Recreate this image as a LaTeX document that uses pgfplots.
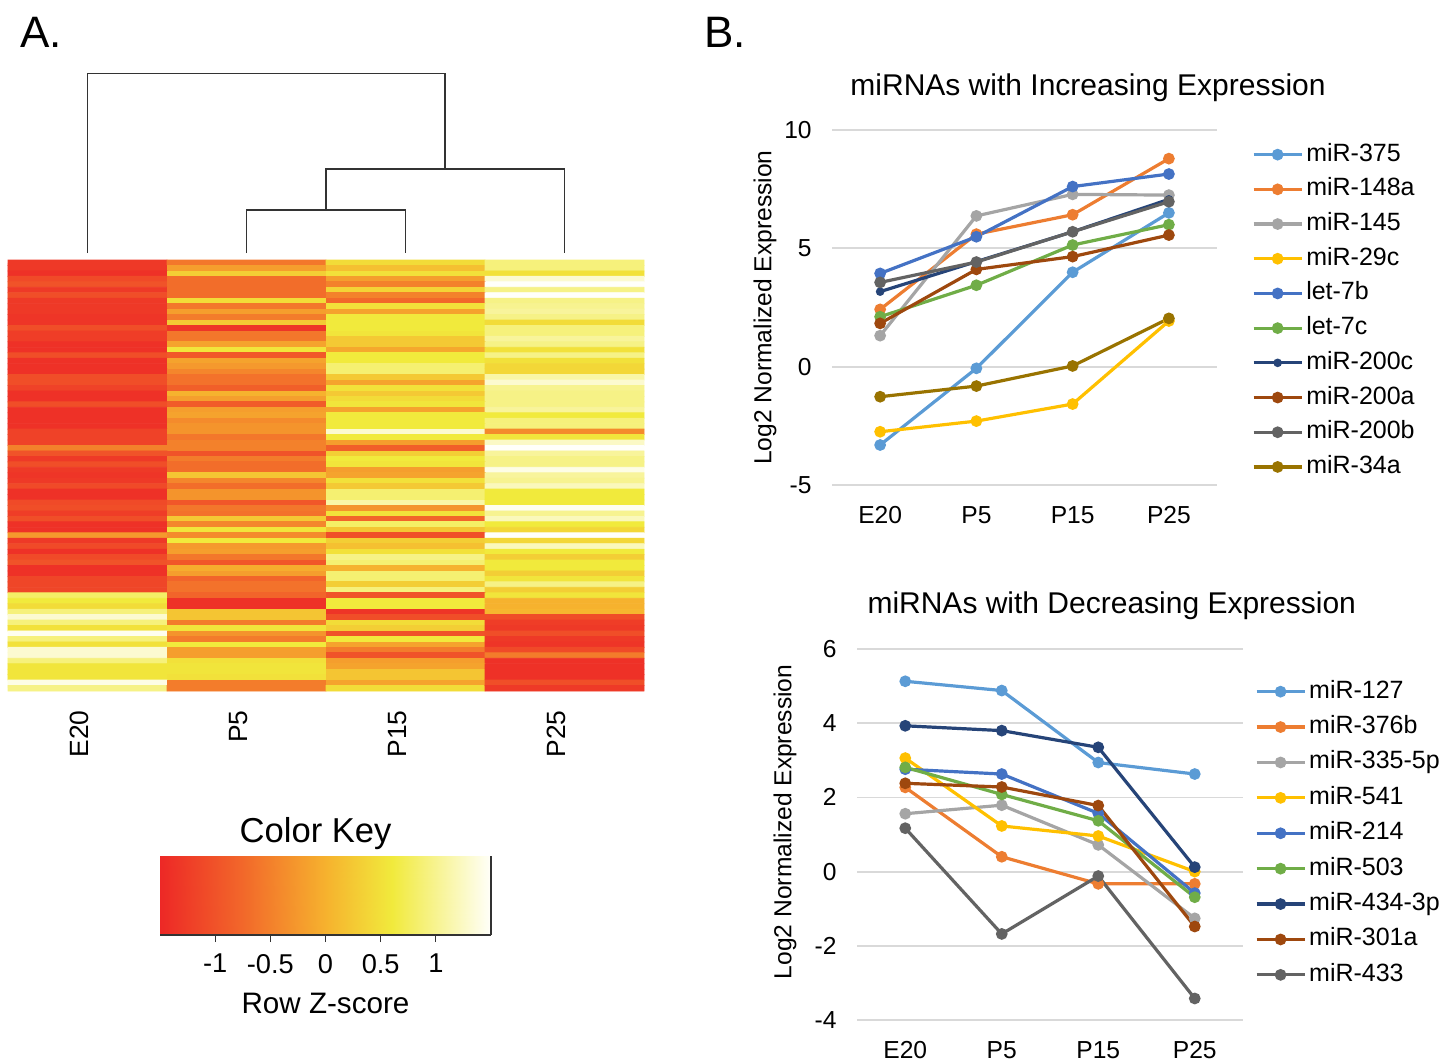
\documentclass[border=0pt]{standalone}
\usepackage{pgfplots}
\pgfplotsset{compat=1.18}
\usepackage{fontspec}
\setmainfont{Liberation Sans}
\definecolor{c1}{HTML}{5B9BD5}
\definecolor{c2}{HTML}{ED7D31}
\definecolor{c3}{HTML}{A5A5A5}
\definecolor{c4}{HTML}{FFC000}
\definecolor{c5}{HTML}{4472C4}
\definecolor{c6}{HTML}{70AD47}
\definecolor{c7}{HTML}{264478}
\definecolor{c8}{HTML}{9E480E}
\definecolor{c9}{HTML}{636363}
\definecolor{c10}{HTML}{997300}
\definecolor{gridc}{HTML}{D9D9D9}
\pgfplotsset{
  colormap={hm}{rgb255(0pt)=(237,40,38) rgb255(15pt)=(242,104,42) rgb255(30pt)=(246,178,46) rgb255(42pt)=(241,234,60) rgb255(60pt)=(255,255,250)},
  ser/.style={color=#1, line width=1.6pt, mark=*, mark size=2.1pt, mark options={solid}},
  linechart/.style={
    anchor=south west, scale only axis, clip=false,
    xmin=-0.5, xmax=3.5,
    xtick={0,1,2,3}, xticklabels={E20,P5,P15,P25},
    axis line style={draw=none}, major tick length=0pt,
    ymajorgrids, grid style={gridc, line width=0.9pt},
    tick label style={font=\fontsize{12.3}{14}\selectfont},
    xticklabel style={inner sep=0pt, anchor=north, yshift=-10.5pt},
    yticklabel style={inner sep=0pt, anchor=east, xshift=-10pt},
    label style={font=\fontsize{12.3}{14}\selectfont},
    title style={font=\fontsize{15}{18}\selectfont, anchor=center},
    legend cell align=left,
    legend style={draw=none, fill=none, inner sep=0pt, outer sep=0pt,
      anchor=north west, font=\fontsize{12.5}{14}\selectfont, column sep=1.5pt,
      nodes={inner sep=0pt, text height=9pt, text depth=2.5pt}},
    legend image code/.code={\draw[mark repeat=2,mark phase=2,##1] plot coordinates {(0pt,0pt) (12pt,0pt) (24pt,0pt)};},
  },
}
\begin{document}
\begin{tikzpicture}
\path[use as bounding box] (0,0) rectangle (727.5pt,531pt);
\node[font=\fontsize{22}{26}\selectfont] at (20.5pt,515pt) {A.};
\node[font=\fontsize{22}{26}\selectfont] at (362.5pt,515pt) {B.};

% ---------------- heatmap ----------------
\begin{axis}[at={(4pt,185.5pt)}, anchor=south west, scale only axis,
  width=318pt, height=215.5pt,
  xmin=-0.5, xmax=3.5, ymin=-0.5, ymax=78.5, clip=false, enlargelimits=false,
  axis line style={draw=none}, tick style={draw=none}, ytick=\empty,
  xtick={0,1,2,3}, xticklabels={E20,P5,P15,P25},
  xticklabel shift=9.5pt,
  xticklabel style={xshift=-4pt, rotate=90, anchor=east, inner sep=0pt, font=\fontsize{13.2}{15}\selectfont},
  colormap name=hm, point meta min=-1.5, point meta max=1.5]
\addplot[matrix plot*, mesh/cols=4, point meta=explicit] table[row sep=\\, meta=z] {
x y z\\
0 78 -1.3\\ 1 78 -0.6\\ 2 78 0.45\\ 3 78 0.9\\
0 77 -1.3\\ 1 77 -0.2\\ 2 77 0.15\\ 3 77 0.9\\
0 76 -1.4\\ 1 76 0.3\\ 2 76 0.5\\ 3 76 0.5\\
0 75 -1.1\\ 1 75 -0.7\\ 2 75 -0.2\\ 3 75 1.3\\
0 74 -1.0\\ 1 74 -0.7\\ 2 74 -0.5\\ 3 74 1.5\\
0 73 -1.3\\ 1 73 -0.7\\ 2 73 0.35\\ 3 73 0.95\\
0 72 -1.05\\ 1 72 -0.7\\ 2 72 -0.5\\ 3 72 1.5\\
0 71 -1.3\\ 1 71 0.45\\ 2 71 -0.75\\ 3 71 0.95\\
0 70 -1.3\\ 1 70 -0.6\\ 2 70 0.5\\ 3 70 1.0\\
0 69 -1.3\\ 1 69 -0.2\\ 2 69 -0.15\\ 3 69 1.05\\
0 68 -1.35\\ 1 68 -0.55\\ 2 68 0.6\\ 3 68 0.95\\
0 67 -1.35\\ 1 67 0.25\\ 2 67 0.6\\ 3 67 0.45\\
0 66 -1.05\\ 1 66 -1.35\\ 2 66 0.6\\ 3 66 0.9\\
0 65 -1.25\\ 1 65 -0.6\\ 2 65 0.55\\ 3 65 0.9\\
0 64 -1.25\\ 1 64 -0.6\\ 2 64 0.25\\ 3 64 1.05\\
0 63 -1.4\\ 1 63 -0.15\\ 2 63 0.25\\ 3 63 0.95\\
0 62 -1.4\\ 1 62 0.55\\ 2 62 -0.1\\ 3 62 0.5\\
0 61 -1.05\\ 1 61 -0.95\\ 2 61 0.6\\ 3 61 0.95\\
0 60 -1.4\\ 1 60 -0.15\\ 2 60 0.6\\ 3 60 0.5\\
0 59 -1.4\\ 1 59 -0.25\\ 2 59 0.85\\ 3 59 0.4\\
0 58 -1.4\\ 1 58 -0.45\\ 2 58 0.85\\ 3 58 0.4\\
0 57 -1.05\\ 1 57 -0.65\\ 2 57 0.25\\ 3 57 1.1\\
0 56 -1.05\\ 1 56 -0.65\\ 2 56 -0.15\\ 3 56 1.3\\
0 55 -1.2\\ 1 55 -0.85\\ 2 55 0.5\\ 3 55 1.0\\
0 54 -1.4\\ 1 54 0.0\\ 2 54 0.25\\ 3 54 0.95\\
0 53 -1.4\\ 1 53 -0.2\\ 2 53 0.45\\ 3 53 0.95\\
0 52 -1.05\\ 1 52 -0.9\\ 2 52 0.55\\ 3 52 0.95\\
0 51 -1.4\\ 1 51 -0.2\\ 2 51 -0.15\\ 3 51 1.05\\
0 50 -1.4\\ 1 50 -0.15\\ 2 50 0.6\\ 3 50 0.6\\
0 49 -1.4\\ 1 49 -0.4\\ 2 49 0.6\\ 3 49 0.9\\
0 48 -1.4\\ 1 48 -0.3\\ 2 48 0.6\\ 3 48 0.9\\
0 47 -1.2\\ 1 47 -0.3\\ 2 47 1.3\\ 3 47 -0.4\\
0 46 -1.2\\ 1 46 -0.6\\ 2 46 0.6\\ 3 46 0.55\\
0 45 -1.2\\ 1 45 -0.5\\ 2 45 -0.2\\ 3 45 1.25\\
0 44 -0.5\\ 1 44 -0.5\\ 2 44 -0.85\\ 3 44 1.5\\
0 43 -1.0\\ 1 43 -1.0\\ 2 43 0.3\\ 3 43 1.05\\
0 42 -1.3\\ 1 42 -0.55\\ 2 42 0.6\\ 3 42 0.95\\
0 41 -1.05\\ 1 41 -0.7\\ 2 41 0.55\\ 3 41 0.95\\
0 40 -1.3\\ 1 40 -0.7\\ 2 40 -0.2\\ 3 40 1.4\\
0 39 -1.35\\ 1 39 0.2\\ 2 39 -0.15\\ 3 39 1.05\\
0 38 -1.3\\ 1 38 -0.45\\ 2 38 0.5\\ 3 38 1.0\\
0 37 -1.1\\ 1 37 -0.7\\ 2 37 0.25\\ 3 37 1.2\\
0 36 -1.4\\ 1 36 -0.3\\ 2 36 0.85\\ 3 36 0.6\\
0 35 -1.4\\ 1 35 -0.3\\ 2 35 0.85\\ 3 35 0.6\\
0 34 -1.1\\ 1 34 -0.95\\ 2 34 1.1\\ 3 34 0.6\\
0 33 -1.05\\ 1 33 -0.6\\ 2 33 -0.3\\ 3 33 1.45\\
0 32 -1.25\\ 1 32 -0.65\\ 2 32 0.5\\ 3 32 1.0\\
0 31 -1.05\\ 1 31 0.25\\ 2 31 -0.8\\ 3 31 1.2\\
0 30 -1.4\\ 1 30 -0.45\\ 2 30 0.8\\ 3 30 0.6\\
0 29 -1.4\\ 1 29 0.55\\ 2 29 0.2\\ 3 29 0.4\\
0 28 -0.25\\ 1 28 -0.4\\ 2 28 -1.05\\ 3 28 1.5\\
0 27 -1.3\\ 1 27 0.6\\ 2 27 0.3\\ 3 27 0.4\\
0 26 -1.1\\ 1 26 -0.25\\ 2 26 0.15\\ 3 26 1.2\\
0 25 -1.4\\ 1 25 -0.2\\ 2 25 0.5\\ 3 25 0.6\\
0 24 -1.1\\ 1 24 -0.6\\ 2 24 0.95\\ 3 24 0.3\\
0 23 -1.0\\ 1 23 -0.95\\ 2 23 0.85\\ 3 23 0.6\\
0 22 -1.4\\ 1 22 -0.05\\ 2 22 0.0\\ 3 22 0.6\\
0 21 -1.4\\ 1 21 -0.2\\ 2 21 0.85\\ 3 21 0.3\\
0 20 -1.15\\ 1 20 -0.8\\ 2 20 0.85\\ 3 20 0.55\\
0 19 -1.15\\ 1 19 -0.65\\ 2 19 0.3\\ 3 19 0.95\\
0 18 -1.15\\ 1 18 -0.65\\ 2 18 0.9\\ 3 18 0.3\\
0 17 0.8\\ 1 17 -0.8\\ 2 17 -1.0\\ 3 17 0.55\\
0 16 0.6\\ 1 16 -1.4\\ 2 16 0.6\\ 3 16 0.0\\
0 15 0.45\\ 1 15 -1.4\\ 2 15 0.6\\ 3 15 0.0\\
0 14 0.9\\ 1 14 0.2\\ 2 14 -1.35\\ 3 14 0.05\\
0 13 1.3\\ 1 13 0.2\\ 2 13 -1.05\\ 3 13 -1.05\\
0 12 0.9\\ 1 12 -0.55\\ 2 12 0.45\\ 3 12 -1.25\\
0 11 0.5\\ 1 11 0.55\\ 2 11 0.3\\ 3 11 -1.3\\
0 10 1.45\\ 1 10 -0.3\\ 2 10 -1.0\\ 3 10 -1.05\\
0 9 0.9\\ 1 9 -0.55\\ 2 9 0.6\\ 3 9 -1.3\\
0 8 0.5\\ 1 8 0.6\\ 2 8 -0.15\\ 3 8 -1.35\\
0 7 1.3\\ 1 7 -0.2\\ 2 7 -0.55\\ 3 7 -1.1\\
0 6 1.3\\ 1 6 -0.2\\ 2 6 -1.0\\ 3 6 -0.55\\
0 5 0.9\\ 1 5 0.5\\ 2 5 -0.2\\ 3 5 -1.4\\
0 4 0.55\\ 1 4 0.55\\ 2 4 -0.15\\ 3 4 -1.4\\
0 3 0.55\\ 1 3 0.55\\ 2 3 0.2\\ 3 3 -1.4\\
0 2 0.55\\ 1 2 0.5\\ 2 2 0.2\\ 3 2 -1.4\\
0 1 1.4\\ 1 1 -0.55\\ 2 1 -0.15\\ 3 1 -1.05\\
0 0 0.95\\ 1 0 -0.55\\ 2 0 0.45\\ 3 0 -1.3\\
};
% dendrogram
\addplot[draw=black!80, line width=0.8pt, mark=none] coordinates {(1,79.78) (1,87.65) (2,87.65) (2,79.78)};
\addplot[draw=black!80, line width=0.8pt, mark=none] coordinates {(1.5,87.65) (1.5,95.15) (3,95.15) (3,79.78)};
\addplot[draw=black!80, line width=0.8pt, mark=none] coordinates {(0,79.78) (0,112.72) (2.25,112.72) (2.25,95.15)};
\end{axis}

% ---------------- color key ----------------
\begin{axis}[at={(80pt,63.5pt)}, anchor=south west, scale only axis,
  width=165.5pt, height=39.5pt,
  xmin=-1.5, xmax=1.5, ymin=0, ymax=1, enlargelimits=false,
  axis on top,
  axis x line*=bottom, axis y line*=right, ytick=\empty,
  xtick={-1,-0.5,0,0.5,1}, xticklabels={-1,-0.5,0,0.5,1},
  xtick align=outside, major tick length=3.5pt,
  tick style={black!80, line width=0.6pt}, axis line style={black!80, line width=0.6pt},
  xticklabel style={font=\fontsize{13.6}{15}\selectfont, yshift=-2.5pt},
  xlabel={Row Z-score}, xlabel style={font=\fontsize{14.8}{17}\selectfont, yshift=-3pt},
  title={Color Key}, title style={font=\fontsize{17.3}{20}\selectfont, at={(axis description cs:0.47,1)}, yshift=-6.5pt},
  colormap name=hm, point meta min=-1.5, point meta max=1.5]
\addplot[surf, shader=interp, mesh/cols=5, point meta=x] coordinates {
(-1.5,0) (-0.75,0) (0,0) (0.6,0) (1.5,0)
(-1.5,1) (-0.75,1) (0,1) (0.6,1) (1.5,1)};
\end{axis}

% ---------------- increasing ----------------
\begin{axis}[linechart, at={(416pt,288.5pt)}, width=192.5pt, height=177.5pt,
  ymin=-5, ymax=10, ytick={-5,0,5,10}, yticklabels={-5,0,5,10},
  ylabel={Log2 Normalized Expression},
  ylabel style={at={(axis description cs:-0.174,0.5)}, anchor=center},
  title={miRNAs with Increasing Expression},
  title style={at={(axis description cs:0.665,1.085)}},
  legend style={at={(axis description cs:1.091,0.963)}, row sep=5.85pt}]
\addplot[ser=c1] coordinates {(0,-3.31) (1,-0.07) (2,3.99) (3,6.5)}; \addlegendentry{miR-375}
\addplot[ser=c2] coordinates {(0,2.42) (1,5.6) (2,6.42) (3,8.79)}; \addlegendentry{miR-148a}
\addplot[ser=c3] coordinates {(0,1.31) (1,6.37) (2,7.28) (3,7.25)}; \addlegendentry{miR-145}
\addplot[ser=c4] coordinates {(0,-2.75) (1,-2.3) (2,-1.58) (3,1.93)}; \addlegendentry{miR-29c}
\addplot[ser=c5] coordinates {(0,3.94) (1,5.49) (2,7.61) (3,8.14)}; \addlegendentry{let-7b}
\addplot[ser=c6] coordinates {(0,2.11) (1,3.44) (2,5.14) (3,6.0)}; \addlegendentry{let-7c}
\addplot[ser=c7, mark size=1.3pt] coordinates {(0,3.17) (1,4.44) (2,5.7) (3,7.07)}; \addlegendentry{miR-200c}
\addplot[ser=c8] coordinates {(0,1.83) (1,4.11) (2,4.65) (3,5.56)}; \addlegendentry{miR-200a}
\addplot[ser=c9] coordinates {(0,3.56) (1,4.42) (2,5.7) (3,6.97)}; \addlegendentry{miR-200b}
\addplot[ser=c10] coordinates {(0,-1.27) (1,-0.82) (2,0.03) (3,2.04)}; \addlegendentry{miR-34a}
\end{axis}

% ---------------- decreasing ----------------
\begin{axis}[linechart, at={(428.5pt,21pt)}, width=193pt, height=185.5pt,
  ymin=-4, ymax=6, ytick={-4,-2,0,2,4,6}, yticklabels={-4,-2,0,2,4,6},
  ylabel={Log2 Normalized Expression},
  ylabel style={at={(axis description cs:-0.1865,0.534)}, anchor=center},
  title={miRNAs with Decreasing Expression},
  title style={at={(axis description cs:0.66,1.084)}},
  legend style={at={(axis description cs:1.031,0.916)}, row sep=6.2pt}]
\addplot[ser=c1] coordinates {(0,5.13) (1,4.88) (2,2.94) (3,2.63)}; \addlegendentry{miR-127}
\addplot[ser=c2] coordinates {(0,2.27) (1,0.40) (2,-0.33) (3,-0.33)}; \addlegendentry{miR-376b}
\addplot[ser=c3] coordinates {(0,1.56) (1,1.79) (2,0.72) (3,-1.26)}; \addlegendentry{miR-335-5p}
\addplot[ser=c4] coordinates {(0,3.06) (1,1.23) (2,0.96) (3,0.0)}; \addlegendentry{miR-541}
\addplot[ser=c5] coordinates {(0,2.76) (1,2.63) (2,1.57) (3,-0.58)}; \addlegendentry{miR-214}
\addplot[ser=c6] coordinates {(0,2.81) (1,2.08) (2,1.37) (3,-0.69)}; \addlegendentry{miR-503}
\addplot[ser=c7] coordinates {(0,3.93) (1,3.80) (2,3.35) (3,0.12)}; \addlegendentry{miR-434-3p}
\addplot[ser=c8] coordinates {(0,2.38) (1,2.28) (2,1.78) (3,-1.48)}; \addlegendentry{miR-301a}
\addplot[ser=c9] coordinates {(0,1.17) (1,-1.68) (2,-0.12) (3,-3.42)}; \addlegendentry{miR-433}
\end{axis}
\end{tikzpicture}
\end{document}
